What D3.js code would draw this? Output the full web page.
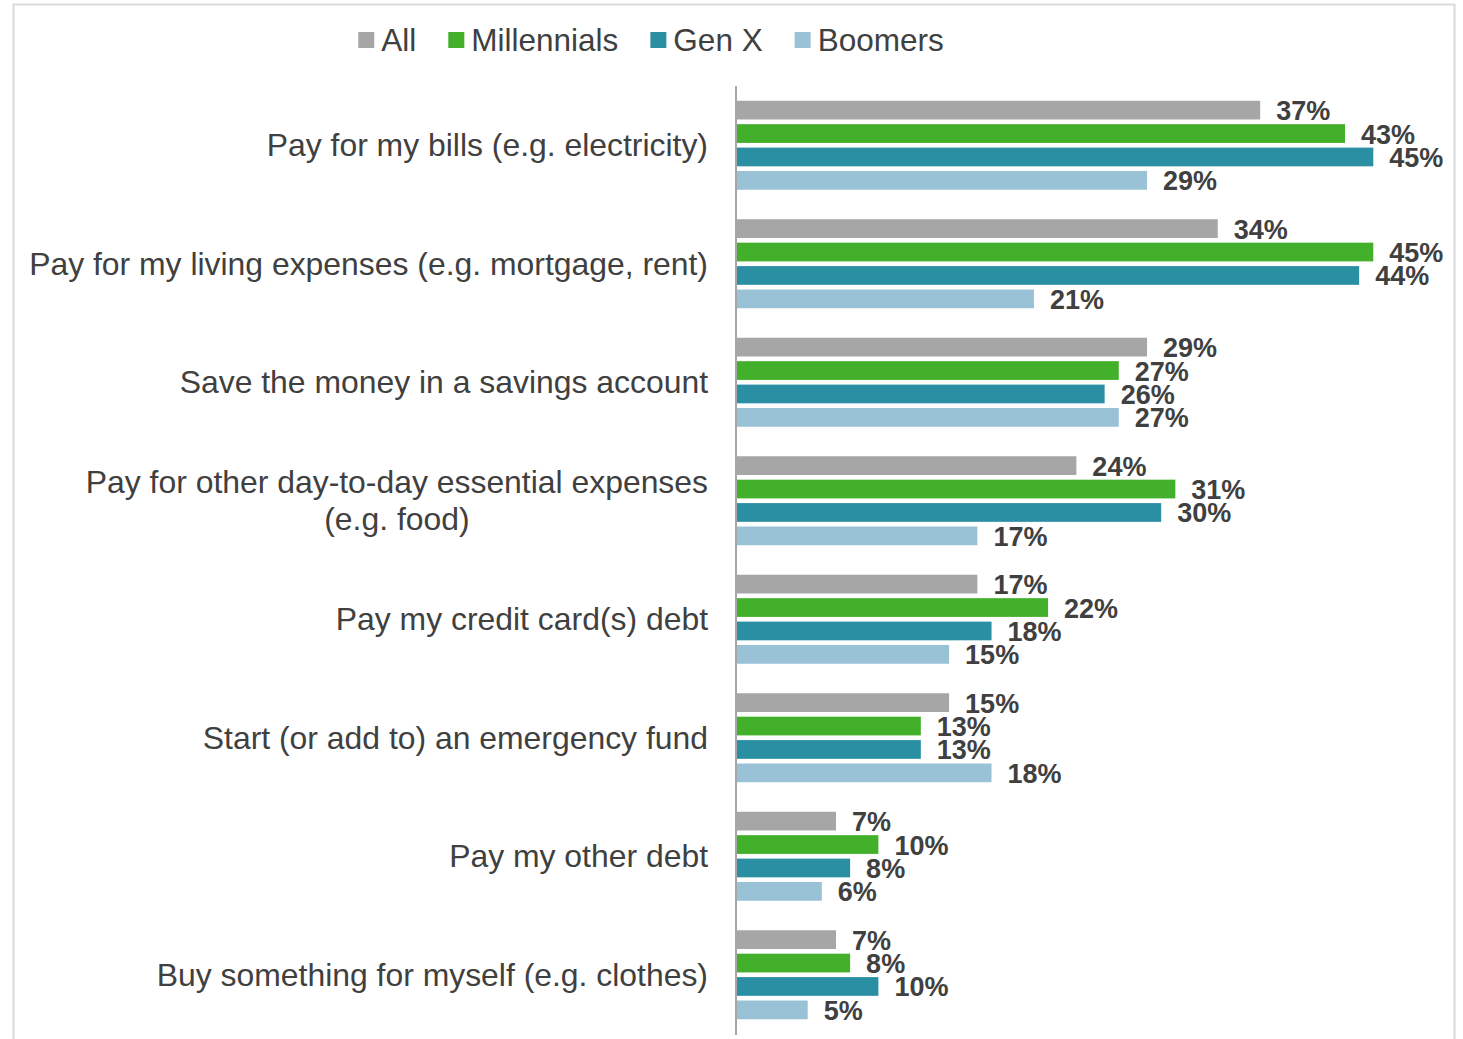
<!DOCTYPE html>
<html>
<head>
<meta charset="utf-8">
<script src="https://cdn.jsdelivr.net/npm/d3@7"></script>
<style>
  html, body { margin: 0; padding: 0; background: #ffffff; }
  svg { display: block; }
</style>
</head>
<body>
<svg id="chart" width="1463" height="1039"></svg>
<script>
// Categories (top to bottom); "\n" marks a manual line break
const categories = [
  "Pay for my bills (e.g. electricity)",
  "Pay for my living expenses (e.g. mortgage, rent)",
  "Save the money in a savings account",
  "Pay for other day-to-day essential expenses\n(e.g. food)",
  "Pay my credit card(s) debt",
  "Start (or add to) an emergency fund",
  "Pay my other debt",
  "Buy something for myself (e.g. clothes)"
];

const seriesNames = ["All", "Millennials", "Gen X", "Boomers"];

// Share of respondents per category, one array per series
const allValues         = [0.37, 0.34, 0.29, 0.24, 0.17, 0.15, 0.07, 0.07];
const millennialsValues = [0.43, 0.45, 0.27, 0.31, 0.22, 0.13, 0.10, 0.08];
const genXValues        = [0.45, 0.44, 0.26, 0.30, 0.18, 0.13, 0.08, 0.10];
const boomersValues     = [0.29, 0.21, 0.27, 0.17, 0.15, 0.18, 0.06, 0.05];

const seriesValues = [allValues, millennialsValues, genXValues, boomersValues];
const seriesColors = ["#a6a6a6", "#42b02b", "#2a8fa3", "#99c2d6"];

const svg = d3.select("#chart");
const textColor = "#404040";
const font = "'Liberation Sans', Arial, sans-serif";

// Outer frame
svg.append("rect")
  .attr("x", 13.5).attr("y", 4.5)
  .attr("width", 1441).attr("height", 1060)
  .attr("fill", "none")
  .attr("stroke", "#d9d9d9")
  .attr("stroke-width", 2);

// Scales
const x = d3.scaleLinear().domain([0, 0.5]).range([737, 1444]);
const y = d3.scaleBand().domain(categories).range([86, 1034]).paddingInner(0).paddingOuter(0);
const groupPad = 14.75;
const yInner = d3.scaleBand()
  .domain(seriesNames)
  .range([groupPad, y.step() - groupPad])
  .paddingInner(0.2)
  .paddingOuter(0);

const rows = categories.map((c, i) => ({
  category: c,
  bars: seriesNames.map((s, j) => ({ series: s, value: seriesValues[j][i], color: seriesColors[j] }))
}));

const groups = svg.append("g").selectAll("g.group")
  .data(rows)
  .join("g")
  .attr("class", "group")
  .attr("transform", d => `translate(0,${y(d.category)})`);

groups.selectAll("rect")
  .data(d => d.bars)
  .join("rect")
  .attr("x", x(0))
  .attr("y", d => yInner(d.series))
  .attr("width", d => x(d.value) - x(0))
  .attr("height", yInner.bandwidth())
  .attr("fill", d => d.color);

// Value labels
const fmt = d3.format(".0%");
groups.selectAll("text.value")
  .data(d => d.bars)
  .join("text")
  .attr("class", "value")
  .attr("x", d => x(d.value) + 16)
  .attr("y", d => yInner(d.series) + yInner.bandwidth() / 2 + 1)
  .attr("dominant-baseline", "central")
  .attr("font-family", font)
  .attr("font-weight", "bold")
  .attr("font-size", 27)
  .attr("fill", textColor)
  .text(d => fmt(d.value));

// Vertical category axis line
svg.append("line")
  .attr("x1", 736).attr("x2", 736)
  .attr("y1", y.range()[0]).attr("y2", y.range()[1] + 1)
  .attr("stroke", "#a6a6a6")
  .attr("stroke-width", 2);

// Category labels, right aligned; multi-line labels centred as a block
const labelRight = 708;
const lineGap = 37;
const catFont = 31.9;
svg.append("g").selectAll("g.cat")
  .data(categories)
  .join("g")
  .attr("class", "cat")
  .each(function(c) {
    const g = d3.select(this);
    const lines = c.split("\n");
    const cy = y(c) + y.bandwidth() / 2;
    const texts = lines.map((ln, k) => g.append("text")
      .attr("y", cy + (k - (lines.length - 1) / 2) * lineGap)
      .attr("dominant-baseline", "central")
      .attr("font-family", font)
      .attr("font-size", catFont)
      .attr("fill", textColor)
      .text(ln));
    if (lines.length === 1) {
      texts[0].attr("x", labelRight).attr("text-anchor", "end");
    } else {
      const w = d3.max(texts, t => t.node().getComputedTextLength());
      texts.forEach(t => t.attr("x", labelRight - w / 2).attr("text-anchor", "middle"));
    }
  });

// Legend
const legend = svg.append("g");
const legendItems = legend.selectAll("g")
  .data(seriesNames.map((s, j) => ({ name: s, color: seriesColors[j] })))
  .join("g");
legendItems.append("rect")
  .attr("width", 16).attr("height", 16)
  .attr("y", 32)
  .attr("fill", d => d.color);
legendItems.append("text")
  .attr("x", 23)
  .attr("y", 40)
  .attr("dominant-baseline", "central")
  .attr("font-family", font)
  .attr("font-size", 31.5)
  .attr("fill", textColor)
  .text(d => d.name);
let cursor = 0;
const offsets = [];
legendItems.each(function() {
  offsets.push(cursor);
  cursor += 23 + d3.select(this).select("text").node().getComputedTextLength() + 32;
});
const legendWidth = cursor - 32;
const legendStart = 651 - legendWidth / 2;
legendItems.attr("transform", (d, i) => `translate(${legendStart + offsets[i]},0)`);
</script>
</body>
</html>
